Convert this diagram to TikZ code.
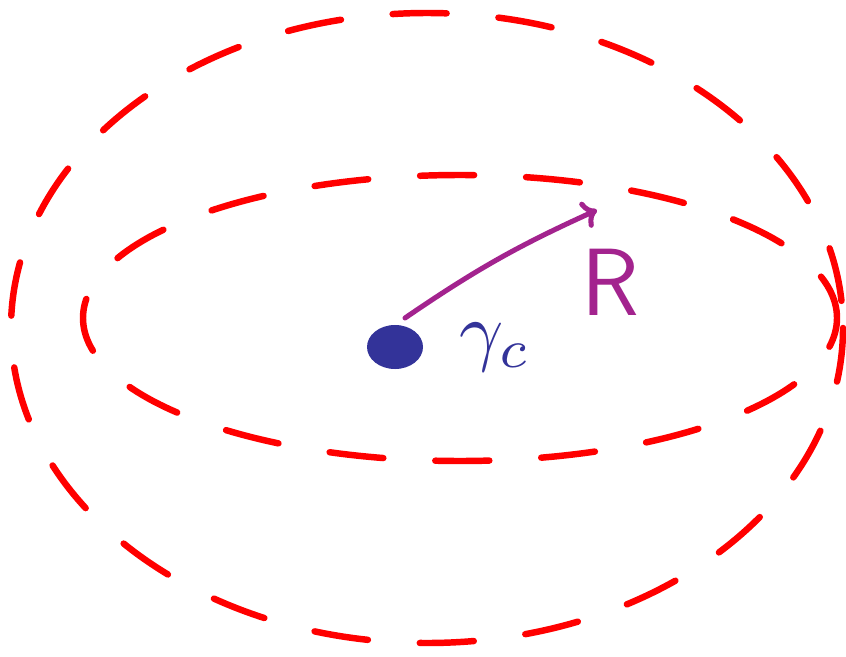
\documentclass[tikz,border=0pt]{standalone}
\usetikzlibrary{shapes.geometric,arrows.meta}
\definecolor{inkred}{RGB}{255,0,0}
\definecolor{inkblue}{RGB}{51,51,153}
\definecolor{inkpurple}{RGB}{163,35,142}
\tikzset{
  orbit/.style={inkred,line width=4.6pt,line cap=round,dash pattern=on 1.35cm off 1.3cm},
}
\begin{document}
\begin{tikzpicture}[x=0.025cm,y=-0.025cm]
  \useasboundingbox (0,0) rectangle (846,656);
  \draw[orbit] (427,328) ellipse [x radius=416, y radius=315];
  \draw[orbit,dash phase=0.6cm] (460,318) ellipse [x radius=377, y radius=143];
  \node (dot) at (395,347) [ellipse,fill=inkblue,minimum width=1.4cm,minimum height=1.1cm,inner sep=0pt] {};
  \coordinate (tip) at (597,210);
  \draw[inkpurple,line width=3.6pt,line cap=round,-{To[length=10pt,width=20pt,line width=3.6pt]}] (405,318) to[bend left=5] (tip);
  \node (R) at (610,282) [inkpurple] {\sffamily\fontsize{68}{68}\selectfont R};
  \node (gamma) at (495,347) [inkblue,scale=5.5] {$\gamma_{c}$};
\end{tikzpicture}
\end{document}
